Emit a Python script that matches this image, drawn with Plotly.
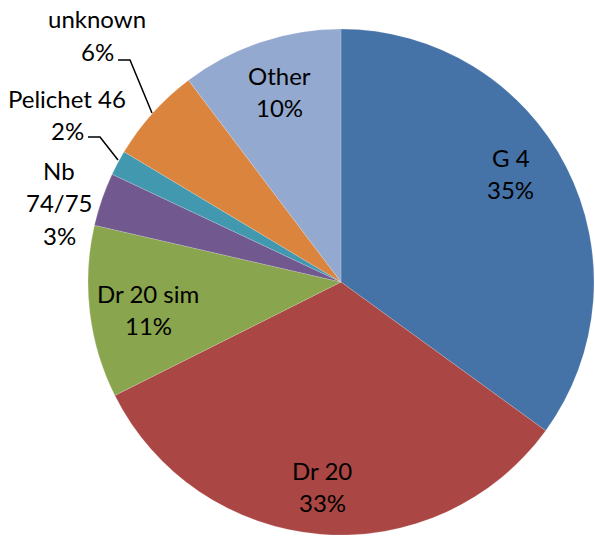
import plotly.graph_objects as go

# Share of each type (percent)
categories = ["G 4", "Dr 20", "Dr 20 sim", "Nb 74/75", "Pelichet 46", "unknown", "Other"]
values = [35.0, 32.6, 11.0, 3.4, 1.6, 6.1, 10.3]
colors = ["#4572A7", "#AA4643", "#89A54E", "#71588F", "#4198AF", "#DB843D", "#93A9CF"]

W, H = 595, 538
FONT = "Lato"
FSIZE = 24
LINE = 32.5

# Label line breaks and centre of the first text line (pixels)
label_lines = {
    "G 4": ["G 4"],
    "Dr 20": ["Dr 20"],
    "Dr 20 sim": ["Dr 20 sim"],
    "Nb 74/75": ["Nb", "74/75"],
    "Pelichet 46": ["Pelichet 46"],
    "unknown": ["unknown"],
    "Other": ["Other"],
}
label_pos = {
    "G 4": (511, 157),
    "Dr 20": (322, 470),
    "Dr 20 sim": (148, 293),
    "Nb 74/75": (59, 170),
    "Pelichet 46": (67, 98),
    "unknown": (97, 19),
    "Other": (279, 75),
}
# Leader lines for the small outside labels (pixels)
leaders = [
    [(88, 137), (100, 137), (118, 160)],
    [(118, 60), (130, 60), (152, 113)],
]

total = sum(values)

fig = go.Figure(
    go.Pie(
        labels=categories,
        values=values,
        marker=dict(colors=colors, line=dict(color="rgba(255,255,255,0.35)", width=0.5)),
        sort=False,
        direction="clockwise",
        rotation=0,
        textinfo="none",
        hoverinfo="label+percent",
        domain=dict(x=[88 / W, 594 / W], y=[3 / H, 509 / H]),
        showlegend=False,
    )
)

annotations = []
for cat, val in zip(categories, values):
    lines = label_lines[cat] + [f"{round(val / total * 100):.0f}%"]
    x0, y0 = label_pos[cat]
    for i, t in enumerate(lines):
        annotations.append(
            dict(
                text=t,
                x=x0 / W,
                y=1 - (y0 + i * LINE) / H,
                xref="paper",
                yref="paper",
                xanchor="center",
                yanchor="middle",
                showarrow=False,
                font=dict(family=FONT, size=FSIZE, color="black"),
            )
        )

shapes = []
for pts in leaders:
    path = "M " + " L ".join(f"{x / W},{1 - y / H}" for x, y in pts)
    shapes.append(
        dict(type="path", path=path, xref="paper", yref="paper",
             line=dict(color="black", width=1.5))
    )

fig.update_layout(
    width=W,
    height=H,
    margin=dict(l=0, r=0, t=0, b=0),
    paper_bgcolor="white",
    plot_bgcolor="white",
    annotations=annotations,
    shapes=shapes,
)

fig.write_html("out.html")
